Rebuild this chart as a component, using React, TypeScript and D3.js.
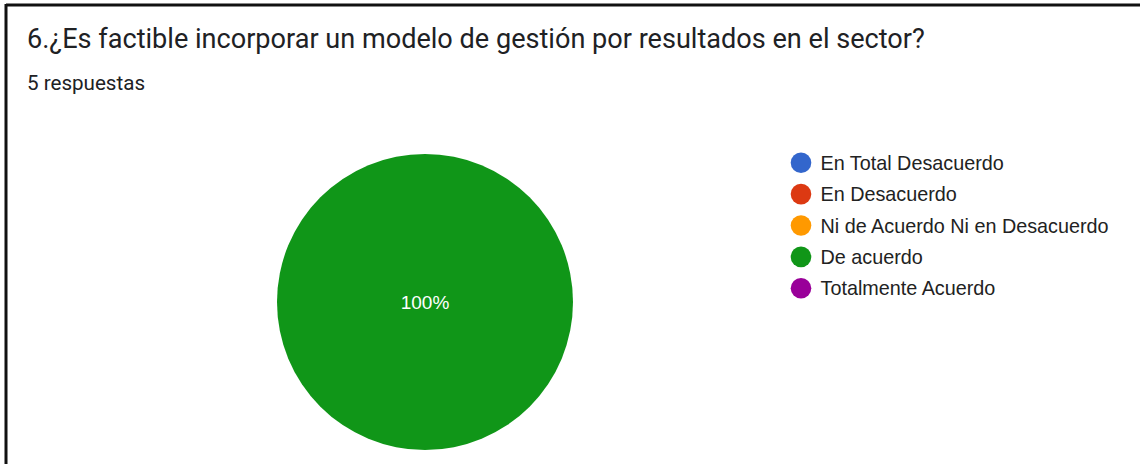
import React from "react";
import * as d3 from "d3";

const title = "6.¿Es factible incorporar un modelo de gestión por resultados en el sector?";
const subtitle = "5 respuestas";
const categories = [
  "En Total Desacuerdo",
  "En Desacuerdo",
  "Ni de Acuerdo Ni en Desacuerdo",
  "De acuerdo",
  "Totalmente Acuerdo",
];
const counts = [0, 0, 0, 5, 0];
const colors = ["#3366cc", "#dc3912", "#ff9900", "#109618", "#990099"];

const W = 1140;
const H = 464;

const App = () => {
  const cx = 425;
  const cy = 302;
  const r = 148;
  const total = d3.sum(counts);

  const pie = d3
    .pie<number>()
    .sort(null)
    .value((d) => d);
  const arcs = pie(counts);
  const arc = d3.arc<d3.PieArcDatum<number>>().innerRadius(0).outerRadius(r);

  const legendY = d3
    .scalePoint<string>()
    .domain(categories)
    .range([162.7, 288.3]);

  return (
    <div style={{ position: "absolute", left: 0, top: 0 }}>
      <svg width={W} height={H} style={{ display: "block", background: "#fff" }}>
        {/* frame of the screenshot */}
        <line x1={6} x2={W} y1={5} y2={5} stroke="#111" strokeWidth={3} />
        <line x1={6} x2={6} y1={4} y2={H} stroke="#111" strokeWidth={3} />

        <text x={27} y={48} fontFamily="Roboto, 'Open Sans', sans-serif" fontSize={27.1} fill="#202124">
          {title}
        </text>
        <text x={27} y={90} fontFamily="Roboto, sans-serif" fontSize={20.6} fill="#202124">
          {subtitle}
        </text>

        <g transform={`translate(${cx},${cy})`}>
          {arcs
            .filter((a) => a.value > 0)
            .map((a) => {
              const pct = Math.round((a.value / total) * 100);
              const [lx, ly] = pct === 100 ? [0, 0] : arc.centroid(a);
              return (
                <g key={a.index}>
                  <path d={arc(a) || ""} fill={colors[a.index]} />
                  <text
                    x={lx}
                    y={ly}
                    dy="0.35em"
                    textAnchor="middle"
                    fontFamily="'Liberation Sans', Arial, sans-serif"
                    fontSize={19}
                    fill="#fff"
                  >
                    {pct}%
                  </text>
                </g>
              );
            })}
        </g>

        <g>
          {categories.map((c, i) => (
            <g key={c} transform={`translate(801,${legendY(c)})`}>
              <circle r={10.3} fill={colors[i]} />
              <text
                x={19.5}
                dy="0.36em"
                fontFamily="'Liberation Sans', Arial, sans-serif"
                fontSize={19.8}
                fill="#222"
              >
                {c}
              </text>
            </g>
          ))}
        </g>
      </svg>
    </div>
  );
};

export default App;
